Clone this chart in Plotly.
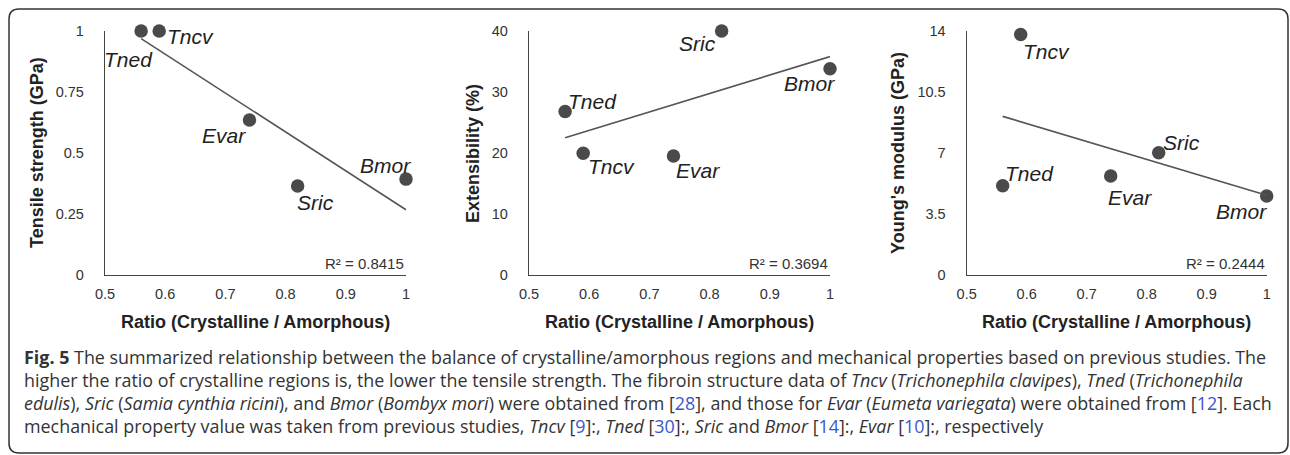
import numpy as np
import plotly.graph_objects as go

# ---------------- data ----------------
species = ["Tned", "Tncv", "Evar", "Sric", "Bmor"]
ratio = [0.56, 0.59, 0.74, 0.82, 1.0]
tensile = [1.0, 1.0, 0.635, 0.365, 0.393]
extensibility = [26.8, 19.95, 19.5, 40.0, 33.8]
youngs = [5.12, 13.8, 5.68, 7.02, 4.53]
r2_labels = ["R² = 0.8415", "R² = 0.3694", "R² = 0.2444"]
y_titles = ["Tensile strength (GPa)", "Extensibility (%)", "Young's modulus (GPa)"]
x_title = "Ratio (Crystalline / Amorphous)"
x_ticks = [0.5, 0.6, 0.7, 0.8, 0.9, 1.0]
x_ticktext = ["0.5", "0.6", "0.7", "0.8", "0.9", "1"]
y_ticks = [[0, 0.25, 0.5, 0.75, 1.0], [0, 10, 20, 30, 40], [0, 3.5, 7, 10.5, 14]]
y_ticktext = [["0", "0.25", "0.5", "0.75", "1"], ["0", "10", "20", "30", "40"],
              ["0", "3.5", "7", "10.5", "14"]]

# body margin removed via post_script, figure fills the window from (0, 0)
W, H = 1290, 455
def px(x): return x / W
def py(y): return 1 - y / H

# panel pixel geometry (window coordinates)
panels_x = [(105, 406), (529, 830), (966.7, 1266.7)]
top, bottom = 31, 275

# label offsets (xshift, yshift) per species per panel
label_offsets = [
    {"Tned": (-13, -29), "Tncv": (31, -6), "Evar": (-25, -15), "Sric": (18, -17), "Bmor": (-21, 14)},
    {"Tned": (27, 10), "Tncv": (28, -13), "Evar": (25, -14), "Sric": (-24, -13), "Bmor": (-21, -15)},
    {"Tned": (27, 12), "Tncv": (26, -17), "Evar": (19, -21), "Sric": (23, 10), "Bmor": (-25, -15)},
]

series = [tensile, extensibility, youngs]
fig = go.Figure()
annotations = []
DOT = "#4a4a4a"
TXT = "#333333"
FONT = "Liberation Sans, Arial, sans-serif"

for i, ys in enumerate(series):
    n = "" if i == 0 else str(i + 1)
    xa, ya = "x" + n, "y" + n
    x0, x1 = panels_x[i]
    fig.add_trace(go.Scatter(
        x=ratio, y=ys, mode="markers", xaxis=xa, yaxis=ya,
        marker=dict(size=13.5, color=DOT), cliponaxis=False, showlegend=False,
        hoverinfo="skip"))
    slope, icpt = np.polyfit(ratio, ys, 1)
    xs = [min(ratio), max(ratio)]
    fig.add_trace(go.Scatter(
        x=xs, y=[slope * v + icpt for v in xs], mode="lines", xaxis=xa, yaxis=ya,
        line=dict(color="#555555", width=1.6), cliponaxis=False, showlegend=False,
        hoverinfo="skip"))
    axis_common = dict(showgrid=False, zeroline=False, showline=True, automargin=False,
                       linecolor="#444444", linewidth=1.3,
                       tickfont=dict(family=FONT, size=14.5, color=TXT))
    fig.update_layout(**{
        ("xaxis" + n): dict(domain=[px(x0), px(x1)], range=[0.5, 1.0],
                            tickvals=x_ticks, ticktext=x_ticktext, anchor=ya,
                            ticks="outside", ticklen=5, tickcolor="rgba(0,0,0,0)",
                            **axis_common),
        ("yaxis" + n): dict(domain=[py(bottom), py(top)], range=[0, y_ticks[i][-1]],
                            tickvals=y_ticks[i], ticktext=y_ticktext[i], anchor=xa,
                            ticks="outside", ticklen=17, tickcolor="rgba(0,0,0,0)",
                            **axis_common),
    })
    for sp, xv, yv in zip(species, ratio, ys):
        dx, dy = label_offsets[i][sp]
        annotations.append(dict(
            x=xv, y=yv, xref=xa, yref=ya, text="<i>" + sp + "</i>", showarrow=False,
            xanchor="center", yanchor="middle",
            xshift=dx, yshift=dy, font=dict(family=FONT, size=21, color="#222222")))
    annotations.append(dict(
        x=px(x1), y=py(bottom - 1), xref="paper", yref="paper", text=r2_labels[i],
        xanchor="right", yanchor="bottom", showarrow=False,
        font=dict(family=FONT, size=15, color=TXT)))
    annotations.append(dict(
        x=px((x0 + x1) / 2), y=py(322), xref="paper", yref="paper",
        text="<b>" + x_title + "</b>", showarrow=False,
        xanchor="center", yanchor="middle",
        font=dict(family=FONT, size=18, color="#222222")))
ytitle_x = [37, 473, 898]
for i, t in enumerate(y_titles):
    annotations.append(dict(
        x=px(ytitle_x[i]), y=py(153), xref="paper", yref="paper",
        text="<b>" + t + "</b>", textangle=-90, showarrow=False,
        xanchor="center", yanchor="middle",
        font=dict(family=FONT, size=18, color="#222222")))

BLUE = "#3a55d0"
def ref(n): return "[<span style='color:%s'>%s</span>]" % (BLUE, n)

caption = [
    "<b>Fig. 5</b> The summarized relationship between the balance of crystalline/amorphous regions and mechanical properties based on previous studies. The",
    "higher the ratio of crystalline regions is, the lower the tensile strength. The fibroin structure data of <i>Tncv</i> (<i>Trichonephila clavipes</i>), <i>Tned</i> (<i>Trichonephila</i>",
    "<i>edulis</i>), <i>Sric</i> (<i>Samia cynthia ricini</i>), and <i>Bmor</i> (<i>Bombyx mori</i>) were obtained from " + ref(28) + ", and those for <i>Evar</i> (<i>Eumeta variegata</i>) were obtained from " + ref(12) + ". Each",
    "mechanical property value was taken from previous studies, <i>Tncv</i> " + ref(9) + ":, <i>Tned</i> " + ref(30) + ":, <i>Sric</i> and <i>Bmor</i> " + ref(14) + ":, <i>Evar</i> " + ref(10) + ":, respectively",
]
cap_y = [357, 380, 403, 426]
for line, yy in zip(caption, cap_y):
    annotations.append(dict(
        x=px(22), y=py(yy), xref="paper", yref="paper", text=line,
        xanchor="left", yanchor="middle", showarrow=False,
        font=dict(family="Open Sans, sans-serif", size=17.9, color=TXT)))

# rounded border box
L, T, R, B, r = 9, 9, 1288, 453, 10
def P(x, y): return "%f,%f" % (px(x), py(y))
path = ("M " + P(L + r, T) + " L " + P(R - r, T) + " Q " + P(R, T) + " " + P(R, T + r) +
        " L " + P(R, B - r) + " Q " + P(R, B) + " " + P(R - r, B) +
        " L " + P(L + r, B) + " Q " + P(L, B) + " " + P(L, B - r) +
        " L " + P(L, T + r) + " Q " + P(L, T) + " " + P(L + r, T) + " Z")

fig.update_layout(
    width=W, height=H, margin=dict(l=0, r=0, t=0, b=0, autoexpand=False),
    paper_bgcolor="white", plot_bgcolor="white",
    annotations=annotations, hovermode=False,
    shapes=[dict(type="path", path=path, xref="paper", yref="paper",
                 line=dict(color="#333333", width=1.5))],
)
fig.write_html(
    "out.html",
    config={"displayModeBar": False},
    post_script="document.body.style.margin='0';document.body.style.overflow='hidden';",
)
